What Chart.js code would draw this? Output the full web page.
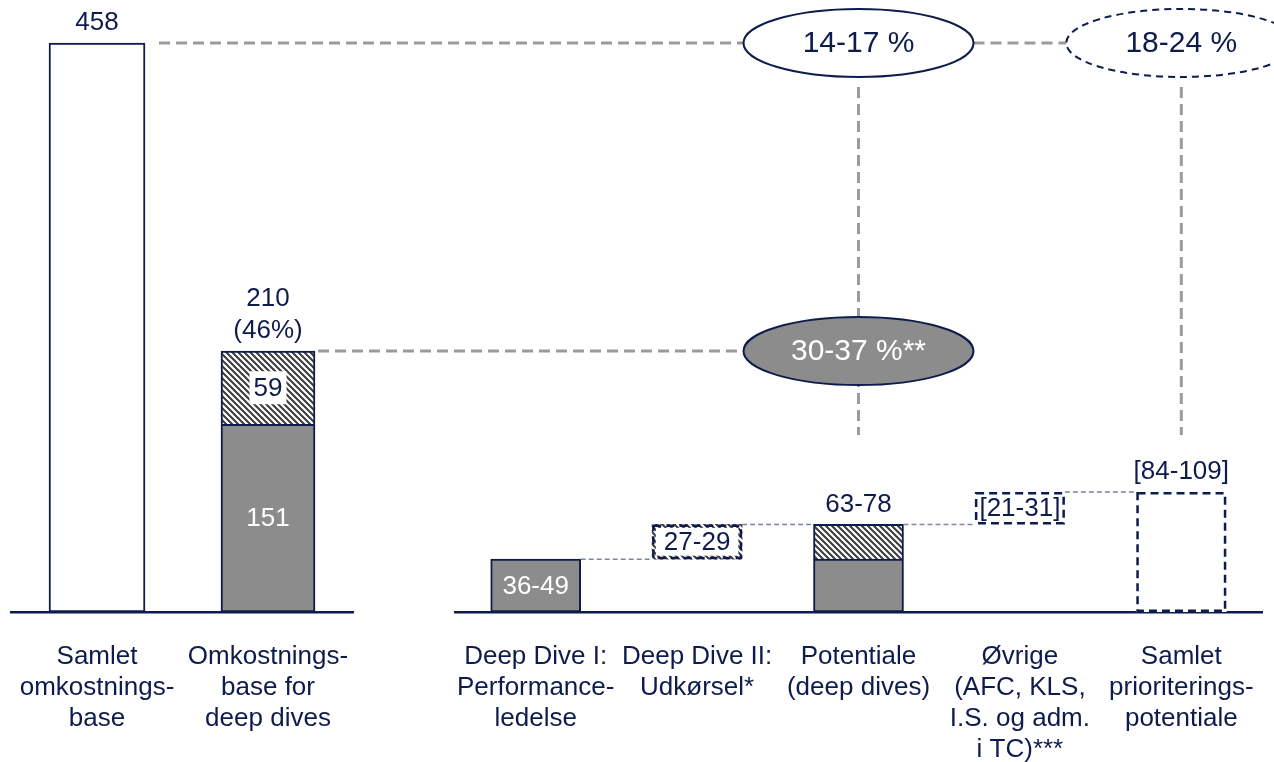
<!DOCTYPE html>
<html lang="da">
<head>
<meta charset="UTF-8">
<title>Prioriteringspotentiale</title>
<script src="https://cdn.jsdelivr.net/npm/chart.js"></script>
<style>
  html, body { margin: 0; padding: 0; background: #fff; }
  #wrap { position: relative; width: 1274px; height: 762px; }
</style>
</head>
<body>
<div id="wrap"><canvas id="chart"></canvas></div>
<script>
// ---- data ----
const leftCategories = [['Samlet', 'omkostnings-', 'base'], ['Omkostnings-', 'base for', 'deep dives']];
const rightCategories = [
    ['Deep Dive I:', 'Performance-', 'ledelse'],
    ['Deep Dive II:', 'Udkørsel*'],
    ['Potentiale', '(deep dives)'],
    ['Øvrige', '(AFC, KLS,', 'I.S. og adm.', 'i TC)***'],
    ['Samlet', 'prioriterings-', 'potentiale']
];

const totalBase = [458, null];
const deepDiveBase = [null, 151];
const deepDiveExtra = [null, 59];
const leftTopLabels = [['458'], ['210', '(46%)']];

// range midpoints: Deep Dive I, Deep Dive II, Øvrige
const stepValues = [42.5, 28, 26];
const rightValueLabels = ['36-49', '27-29', '63-78', '[21-31]', '[84-109]'];
const ellipseLabels = ['14-17 %', '18-24 %', '30-37 %**'];

// derived waterfall series
const potential = stepValues[0] + stepValues[1];
const grandTotal = potential + stepValues[2];
const rightSolid = [stepValues[0], null, stepValues[0], null, null];
const rightHatch = [null, null, stepValues[1], null, null];
const dd2Box = [null, [stepValues[0], potential], null, null, null];
const otherBox = [null, null, null, [potential, grandTotal], null];
const totalBox = [null, null, null, null, grandTotal];

const NAVY = '#0e1b4d';
const GRAY = '#8c8c8c';
const FONT = "'Liberation Sans', Arial, sans-serif";

// hatch pattern
const tile = document.createElement('canvas');
tile.width = 6; tile.height = 6;
const tc = tile.getContext('2d');
tc.fillStyle = '#fff';
tc.fillRect(0, 0, 6, 6);
tc.strokeStyle = '#3a3a3a';
tc.lineWidth = 2;
tc.beginPath();
tc.moveTo(0, 0); tc.lineTo(6, 6);
tc.moveTo(4, -2); tc.lineTo(8, 2);
tc.moveTo(-2, 4); tc.lineTo(2, 8);
tc.stroke();
const hatch = document.getElementById('chart').getContext('2d').createPattern(tile, 'repeat');

function fixHeight(scale) {
    scale.height = 150;
    scale.paddingLeft = 0;
    scale.paddingRight = 0;
    scale.paddingTop = 0;
    scale.paddingBottom = 0;
}

const tickOpts = {
    autoSkip: false,
    maxRotation: 0,
    minRotation: 0,
    padding: 21,
    color: NAVY,
    font: { family: FONT, size: 26, lineHeight: 1.2 }
};

function textBox(ctx, text, x, y, pad, h) {
    const w = ctx.measureText(text).width + pad * 2;
    ctx.fillStyle = '#fff';
    ctx.fillRect(x - w / 2, y - h / 2, w, h);
}

const annotations = {
    id: 'annotations',
    afterDatasetsDraw(chart) {
        const ctx = chart.ctx;
        chart.data.datasets.forEach((ds, i) => {
            if (!ds.dashed) return;
            chart.getDatasetMeta(i).data.forEach((bar, j) => {
                if (ds.data[j] == null) return;
                const p = bar.getProps(['x', 'y', 'base', 'width'], true);
                const top = Math.min(p.y, p.base);
                const h = Math.abs(p.base - p.y);
                ctx.save();
                ctx.strokeStyle = NAVY;
                ctx.lineWidth = 2.5;
                ctx.setLineDash([8, 5]);
                ctx.strokeRect(p.x - p.width / 2 + 1.25, top + 1.25, p.width - 2.5, h - 2.5);
                ctx.restore();
            });
        });
    },
    afterDraw(chart) {
        const ctx = chart.ctx;
        const y = chart.scales.y;
        const xR = chart.scales.xR;
        const bar = (di, j) => chart.getDatasetMeta(di).data[j].getProps(['x', 'y', 'base', 'width'], true);

        ctx.save();
        // thin waterfall connectors
        const tops = [bar(3, 0), bar(5, 1), bar(4, 2), bar(6, 3), bar(7, 4)];
        ctx.strokeStyle = '#80879c';
        ctx.lineWidth = 1.5;
        ctx.setLineDash([5, 3]);
        for (let k = 0; k < tops.length - 1; k++) {
            ctx.beginPath();
            ctx.moveTo(tops[k].x + tops[k].width / 2, tops[k].y);
            ctx.lineTo(tops[k + 1].x - tops[k + 1].width / 2, tops[k].y);
            ctx.stroke();
        }

        // thick grey connectors to the ellipses
        const rx = 115, ry = 34;
        const yTotal = y.getPixelForValue(totalBase[0]);
        const yDeep = y.getPixelForValue(deepDiveBase[1] + deepDiveExtra[1]);
        const cx1 = xR.getPixelForValue(2);
        const cx2 = xR.getPixelForValue(4);
        const b0 = bar(0, 0), b2 = bar(2, 1);
        const stemEnd = 435;
        ctx.strokeStyle = '#9b9b9b';
        ctx.lineWidth = 3;
        ctx.setLineDash([11, 6]);
        const seg = (x1, y1, x2, y2) => { ctx.beginPath(); ctx.moveTo(x1, y1); ctx.lineTo(x2, y2); ctx.stroke(); };
        seg(b0.x + b0.width / 2 + 14, yTotal, cx1 - rx, yTotal);
        seg(cx1 + rx, yTotal, cx2 - rx, yTotal);
        seg(b2.x + b2.width / 2 + 3, yDeep, cx1 - rx, yDeep);
        seg(cx1, yTotal + ry + 10, cx1, stemEnd);
        seg(cx2, yTotal + ry + 10, cx2, stemEnd);

        // ellipses
        const ellipse = (cx, cy, fill, dash) => {
            ctx.beginPath();
            ctx.ellipse(cx, cy, rx, ry, 0, 0, Math.PI * 2);
            ctx.fillStyle = fill;
            ctx.fill();
            ctx.setLineDash(dash);
            ctx.strokeStyle = NAVY;
            ctx.lineWidth = 2;
            ctx.stroke();
        };
        ellipse(cx1, yTotal, '#fff', []);
        ellipse(cx2, yTotal, '#fff', [7, 5]);
        ellipse(cx1, yDeep, GRAY, []);
        ctx.setLineDash([]);
        ctx.textAlign = 'center';
        ctx.textBaseline = 'middle';
        ctx.font = '30px ' + FONT;
        ctx.fillStyle = NAVY;
        ctx.fillText(ellipseLabels[0], cx1, yTotal + 1);
        ctx.fillText(ellipseLabels[1], cx2, yTotal + 1);
        ctx.fillStyle = '#fff';
        ctx.fillText(ellipseLabels[2], cx1, yDeep + 1);

        // value labels
        ctx.font = '26px ' + FONT;
        const leftTops = [bar(0, 0), bar(2, 1)];
        leftTopLabels.forEach((lines, j) => {
            ctx.fillStyle = NAVY;
            lines.forEach((t, n) => {
                ctx.fillText(t, leftTops[j].x, leftTops[j].y - 20 - (lines.length - 1 - n) * 32);
            });
        });
        const hb = bar(2, 1);
        const hy = (hb.y + hb.base) / 2;
        textBox(ctx, String(deepDiveExtra[1]), hb.x, hy, 4, 33);
        ctx.fillStyle = NAVY;
        ctx.fillText(String(deepDiveExtra[1]), hb.x, hy + 1);
        const gb = bar(1, 1);
        ctx.fillStyle = '#fff';
        ctx.fillText(String(deepDiveBase[1]), gb.x, (gb.y + gb.base) / 2 + 1);

        // right side
        const r0 = tops[0];
        ctx.fillStyle = '#fff';
        ctx.fillText(rightValueLabels[0], r0.x, (r0.y + r0.base) / 2 + 1);
        const r1 = tops[1];
        const r1y = (r1.y + r1.base) / 2;
        textBox(ctx, rightValueLabels[1], r1.x, r1y, 8, Math.abs(r1.base - r1.y) - 7);
        ctx.fillStyle = NAVY;
        ctx.fillText(rightValueLabels[1], r1.x, r1y + 1);
        ctx.fillText(rightValueLabels[2], tops[2].x, tops[2].y - 20);
        const r3 = tops[3];
        ctx.fillText(rightValueLabels[3], r3.x, (r3.y + r3.base) / 2 + 1);
        ctx.fillText(rightValueLabels[4], tops[4].x, tops[4].y - 20);
        ctx.restore();
    }
};

// bars are not grouped, so each sits on its own category centre
const barBase = { stack: 'S', grouped: false };
new Chart(document.getElementById('chart'), {
    type: 'bar',
    data: {
        datasets: [
            { ...barBase, label: 'Samlet omkostningsbase', data: totalBase, xAxisID: 'xL',
              backgroundColor: '#fff', borderColor: NAVY, borderWidth: 2, borderSkipped: false, barThickness: 96 },
            { ...barBase, label: 'Omkostningsbase deep dives', data: deepDiveBase, xAxisID: 'xL',
              backgroundColor: GRAY, borderColor: NAVY, borderWidth: 2, borderSkipped: false, barThickness: 94 },
            { ...barBase, label: 'Tillæg', data: deepDiveExtra, xAxisID: 'xL',
              backgroundColor: hatch, borderColor: NAVY, borderWidth: 2, borderSkipped: 'bottom', barThickness: 94 },
            { ...barBase, label: 'Deep Dive I', data: rightSolid, xAxisID: 'xR',
              backgroundColor: GRAY, borderColor: NAVY, borderWidth: 2, borderSkipped: false, barThickness: 90 },
            { ...barBase, label: 'Deep Dive II', data: rightHatch, xAxisID: 'xR',
              backgroundColor: hatch, borderColor: NAVY, borderWidth: 2, borderSkipped: 'bottom', barThickness: 90 },
            { ...barBase, label: 'Udkørsel', data: dd2Box, xAxisID: 'xR', dashed: true,
              backgroundColor: hatch, borderWidth: 0, barThickness: 90 },
            { ...barBase, label: 'Øvrige', data: otherBox, xAxisID: 'xR', dashed: true,
              backgroundColor: '#fff', borderWidth: 0, barThickness: 90 },
            { ...barBase, label: 'Samlet potentiale', data: totalBox, xAxisID: 'xR', dashed: true,
              backgroundColor: '#fff', borderWidth: 0, barThickness: 90 }
        ]
    },
    options: {
        responsive: true,
        maintainAspectRatio: false,
        animation: false,
        layout: { padding: { left: 11.5, right: 12, top: 0, bottom: 0 } },
        plugins: { legend: { display: false }, tooltip: { enabled: false } },
        scales: {
            xL: {
                type: 'category', labels: leftCategories, position: 'bottom', offset: true,
                stack: 'x', stackWeight: 342, weight: 1,
                grid: { display: false },
                border: { display: true, color: NAVY, width: 2.5 },
                ticks: tickOpts,
                afterFit: fixHeight
            },
            xGap: {
                type: 'category', labels: [''], position: 'bottom', offset: true,
                stack: 'x', stackWeight: 101.5, weight: 2,
                grid: { display: false },
                border: { display: false },
                ticks: { display: false },
                afterFit: fixHeight
            },
            xR: {
                type: 'category', labels: rightCategories, position: 'bottom', offset: true,
                stack: 'x', stackWeight: 807, weight: 3,
                grid: { display: false },
                border: { display: true, color: NAVY, width: 2.5 },
                ticks: tickOpts,
                afterFit: fixHeight
            },
            y: {
                type: 'linear', display: false, stacked: true,
                min: 0, max: 492.6
            }
        }
    },
    plugins: [annotations]
});
</script>
</body>
</html>
